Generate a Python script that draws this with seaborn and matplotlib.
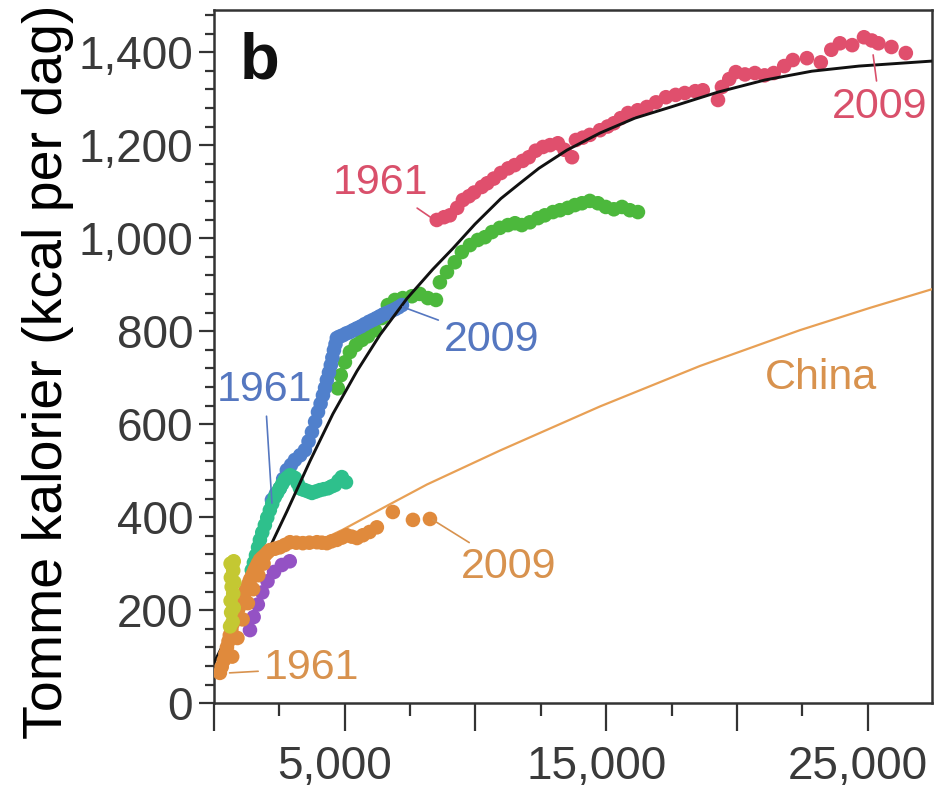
import matplotlib
matplotlib.use("Agg")
import matplotlib.pyplot as plt
import matplotlib.transforms as mtransforms
from matplotlib.ticker import FixedLocator, MultipleLocator
import seaborn as sns

# serie rossa (1961-2009)
rosso_x = [8520, 8800, 9020, 9300, 9520, 9750, 9950, 10240, 10450, 10700, 10970, 11250,
           11500, 11800, 12040, 12300, 12580, 12850, 13150, 13400, 13690, 13840, 14100,
           14370, 14760, 15050, 15290, 15550, 15830, 16200, 16550, 16900, 17280, 17650,
           18000, 18400, 18690, 19270, 19420, 19700, 19950, 20300, 20680, 21050, 21400,
           21800, 22130, 22670, 23200, 23600, 23930, 24400, 24850, 25150, 25400, 25900, 26450]
rosso_y = [1039, 1045, 1049, 1065, 1082, 1090, 1098, 1110, 1118, 1128, 1140, 1150,
           1157, 1166, 1174, 1188, 1196, 1200, 1204, 1190, 1174, 1211, 1216,
           1222, 1232, 1240, 1247, 1258, 1269, 1275, 1282, 1292, 1303, 1308,
           1312, 1316, 1318, 1297, 1325, 1342, 1357, 1352, 1355, 1350, 1355,
           1370, 1383, 1387, 1378, 1405, 1419, 1415, 1432, 1425, 1419, 1411, 1398]

# serie verde
verde_x = [4740, 4850, 5010, 5200, 5430, 5660, 5890, 6160, 6420, 6650, 6920, 7220, 7570,
           7870, 8180, 8490, 8640, 8910, 9210, 9480, 9790, 10090, 10360, 10630, 10930,
           11240, 11510, 11770, 12080, 12390, 12650, 12960, 13230, 13530, 13800, 14070,
           14370, 14680, 14980, 15290, 15600, 15900, 16210]
verde_y = [677, 705, 733, 755, 770, 781, 789, 802, 828, 856, 867, 871, 875,
           880, 871, 867, 905, 927, 948, 970, 985, 996, 1002, 1013, 1022,
           1028, 1032, 1028, 1034, 1043, 1049, 1056, 1060, 1065, 1071, 1075,
           1080, 1075, 1067, 1062, 1067, 1060, 1056]

# serie blu
blu_x = [2220, 2370, 2520, 2650, 2790, 2950, 3100, 3300, 3480, 3620, 3750, 3870, 3980,
         4080, 4170, 4250, 4320, 4400, 4470, 4530, 4590, 4650, 4700, 4800, 4930, 5060,
         5200, 5330, 5470, 5620, 5770, 5930, 6080, 6220, 6350, 6480, 6610, 6770, 6920,
         7050, 7190]
blu_y = [437, 450, 462, 482, 501, 512, 523, 533, 544, 563, 583, 605, 626,
         644, 662, 678, 695, 711, 727, 743, 759, 772, 785, 788, 791, 795,
         798, 802, 806, 810, 815, 820, 824, 828, 832, 836, 839, 843, 847,
         851, 856]

# serie verde acqua
acqua_x = [1450, 1530, 1610, 1690, 1760, 1850, 1950, 2040, 2140, 2230, 2330, 2420, 2520,
           2610, 2710, 2810, 2910, 3000, 3100, 3200, 3290, 3380, 3480, 3620, 3750, 3900,
           4050, 4200, 4360, 4500, 4630, 4760, 4890, 5050]
acqua_y = [286, 302, 318, 335, 351, 367, 383, 399, 415, 429, 443, 452, 462,
           471, 480, 485, 490, 487, 484, 473, 462, 460, 458, 455, 452, 455,
           458, 460, 462, 466, 469, 478, 486, 475]

# serie giallo-verde
giallo_x = [620, 720, 660, 760, 640, 740, 680, 780, 650, 740, 700, 760, 640]
giallo_y = [165, 175, 195, 205, 220, 235, 250, 260, 270, 285, 295, 305, 300]

# serie viola
viola_x = [1380, 1520, 1680, 1850, 2050, 2300, 2600, 2900]
viola_y = [157, 185, 212, 238, 262, 282, 297, 305]

# Cina (punti)
cina_x = [230, 300, 380, 440, 500, 560, 610, 670, 730, 800, 880, 940, 990, 1070, 1150,
          1200, 1260, 1320, 1380, 1440, 1490, 1550, 1610, 1680, 1760, 1850, 1950, 2050,
          2140, 2330, 2520, 2710, 2910, 3150, 3400, 3650, 3940, 4130, 4320, 4500, 4700,
          4900, 5080, 5270, 5470, 5700, 5950, 6230, 6840, 7610, 8260,
          700, 900, 1100, 1300, 1500, 1700, 1900]
cina_y = [65, 78, 92, 106, 120, 133, 146, 159, 172, 183, 194, 203, 211, 222, 232,
          240, 247, 256, 265, 271, 277, 285, 292, 300, 308, 313, 318, 324,
          329, 332, 335, 340, 346, 345, 344, 345, 346, 345, 344, 348, 351,
          356, 361, 358, 355, 361, 368, 378, 411, 394, 396,
          100, 140, 180, 215, 245, 275, 300]

# curva nera
curva_x = [0, 730, 1380, 2030, 2790, 3670, 4550, 5470, 6350, 7380, 8370, 9140, 9980,
           10970, 11700, 12420, 13490, 14760, 16090, 17470, 19270, 21060, 22860, 24660, 27520]
curva_y = [86, 168, 243, 322, 412, 520, 622, 714, 792, 870, 933, 978, 1030,
           1085, 1118, 1150, 1189, 1226, 1258, 1282, 1314, 1340, 1359, 1370, 1381]

# curva Cina
curva_cina_x = [3600, 4300, 4930, 6540, 8140, 10930, 14760, 18580, 22400, 25080, 27560]
curva_cina_y = [338, 356, 373, 422, 470, 543, 638, 725, 802, 850, 892]

y_ticks = [0, 200, 400, 600, 800, 1000, 1200, 1400]
x_ticks = [0, 5000, 10000, 15000, 20000, 25000]
x_etichette = ["", "5,000", "", "15,000", "", "25,000"]

ROSSO = "#e04f6d"
VERDE = "#4cb83c"
BLU = "#5080cc"
ACQUA = "#2ec08c"
GIALLO = "#c4c832"
VIOLA = "#9452c4"
ARANCIO = "#e08a3c"
ARANCIO_LINEA = "#e8a055"

sns.set_theme(style="ticks")
plt.rcParams["font.family"] = ["Liberation Sans", "DejaVu Sans"]

fig = plt.figure(figsize=(9.38, 7.9), dpi=100)
ax = fig.add_axes([0.228, 0.110, 0.7656, 0.877])

punti = dict(s=110, edgecolor="none", legend=False, ax=ax, zorder=3)
sns.scatterplot(x=rosso_x, y=rosso_y, color=ROSSO, **punti)
sns.scatterplot(x=verde_x, y=verde_y, color=VERDE, **punti)
sns.scatterplot(x=blu_x, y=blu_y, color=BLU, **punti)
sns.scatterplot(x=acqua_x, y=acqua_y, color=ACQUA, **punti)
sns.scatterplot(x=viola_x, y=viola_y, color=VIOLA, **punti)

sns.lineplot(x=curva_x, y=curva_y, sort=False, color="#111111", lw=2.1, ax=ax, zorder=4)
sns.lineplot(x=curva_cina_x, y=curva_cina_y, sort=False, color=ARANCIO_LINEA, lw=1.6, ax=ax, zorder=4)
sns.scatterplot(x=cina_x, y=cina_y, color=ARANCIO, s=110, edgecolor="none", legend=False, ax=ax, zorder=5)
sns.scatterplot(x=giallo_x, y=giallo_y, color=GIALLO, s=110, edgecolor="none", legend=False, ax=ax, zorder=5.5)

# etichette anni
def etichetta(testo, xy, xytext, colore):
    ax.annotate(testo, xy=xy, xytext=xytext, ha="center", va="center", color=colore,
                fontsize=31, zorder=6,
                arrowprops=dict(arrowstyle="-", color=colore, lw=1.2, shrinkA=2, shrinkB=0))

etichetta("1961", (8330, 1043), (6380, 1118), "#d9506b")
etichetta("2009", (25200, 1394), (25460, 1282), "#d9506b")
etichetta("1961", (2220, 430), (1950, 673), "#5577c0")
etichetta("2009", (7220, 852), (10630, 781), "#5577c0")
etichetta("1961", (600, 65), (3750, 75), "#d8924e")
etichetta("2009", (8370, 394), (11280, 292), "#d8924e")
ax.text(23200, 699, "China", ha="center", va="center", color="#d8924e", fontsize=31)

ax.text(0.036, 0.902, "b", transform=ax.transAxes, fontsize=47, fontweight="bold",
        color="#111111", va="baseline")

ax.set_xlim(0, 27450)
ax.set_ylim(0, 1490)

ax.yaxis.set_major_locator(FixedLocator(y_ticks))
ax.set_yticklabels([f"{v:,}" for v in y_ticks])
ax.yaxis.set_minor_locator(MultipleLocator(40))
ax.xaxis.set_major_locator(FixedLocator(x_ticks))
ax.set_xticklabels(x_etichette)
ax.xaxis.set_minor_locator(MultipleLocator(2500))

ax.tick_params(axis="both", which="both", direction="out", color="#333333", width=1.6,
               labelcolor="#3a3a3a", labelsize=33)
ax.tick_params(axis="y", which="major", length=11, pad=4)
ax.tick_params(axis="y", which="minor", length=6.5)
ax.tick_params(axis="x", which="major", length=20, pad=10)
ax.tick_params(axis="x", which="minor", length=9.5)

sposta = mtransforms.ScaledTranslation(-10 / 100, 0, fig.dpi_scale_trans)
for lab in ax.get_xticklabels():
    lab.set_transform(lab.get_transform() + sposta)

for lato in ax.spines.values():
    lato.set_color("#333333")
    lato.set_linewidth(1.8)

ax.set_xlabel("")
ax.set_ylabel("")
fig.text(48 / 938, 1 - 372 / 790, "Tomme kalorier (kcal per dag)", rotation=90,
         ha="center", va="center", fontsize=40, color="black")

fig.savefig("out.png", dpi=100)
